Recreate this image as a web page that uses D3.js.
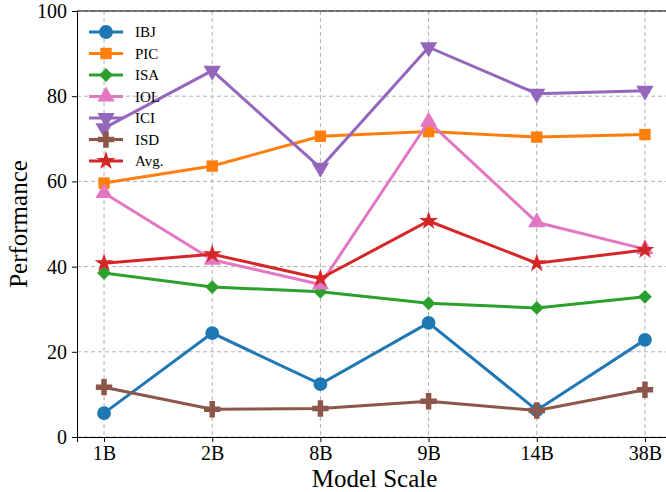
<!DOCTYPE html>
<html>
<head>
<meta charset="utf-8">
<script src="https://cdn.jsdelivr.net/npm/d3@7"></script>
<style>
  body { margin: 0; background: #fff; overflow: hidden; }
</style>
</head>
<body>
<div id="chart"></div>
<script>
// data
var scales = ["1B", "2B", "8B", "9B", "14B", "38B"];
var ibj = [5.6, 24.4, 12.4, 26.8, 6.3, 22.8];
var pic = [59.6, 63.6, 70.6, 71.7, 70.4, 71.0];
var isa = [38.5, 35.2, 34.1, 31.4, 30.3, 32.9];
var iol = [57.3, 41.6, 35.8, 74.0, 50.4, 44.1];
var ici = [72.5, 86.0, 63.2, 91.5, 80.6, 81.3];
var isd = [11.7, 6.5, 6.7, 8.4, 6.2, 11.1];
var avg = [40.8, 42.9, 37.2, 50.7, 40.8, 43.9];
var yTicks = [0, 20, 40, 60, 80, 100];

var series = [
  {name: "IBJ", values: ibj, color: "#1f77b4", marker: "circle"},
  {name: "PIC", values: pic, color: "#ff7f0e", marker: "square"},
  {name: "ISA", values: isa, color: "#2ca02c", marker: "diamond"},
  {name: "IOL", values: iol, color: "#e377c2", marker: "up"},
  {name: "ICI", values: ici, color: "#9467bd", marker: "down"},
  {name: "ISD", values: isd, color: "#8c564b", marker: "plus"},
  {name: "Avg.", values: avg, color: "#d62728", marker: "star"}
];

var FONT = '"Liberation Serif", "Times New Roman", "DejaVu Serif", serif';
var W = 666, H = 492;
var margin = {top: 11, left: 77, bottom: 55, right: -6};
var width = W - margin.left - margin.right,
    height = H - margin.top - margin.bottom;

var svg = d3.select("#chart").append("svg")
    .attr("width", W).attr("height", H)
    .attr("font-family", FONT);
var g = svg.append("g")
    .attr("transform", "translate(" + margin.left + "," + margin.top + ")");

var x = d3.scaleLinear().domain([-0.25, scales.length - 0.75]).range([0, width]);
var y = d3.scaleLinear().domain([0, 100]).range([height, 0]);

// grid
g.append("g").selectAll("line").data(scales).enter().append("line")
    .attr("x1", function(d, i) { return x(i); }).attr("x2", function(d, i) { return x(i); })
    .attr("y1", 0).attr("y2", height)
    .attr("stroke", "#b0b0b0").attr("stroke-width", 1).attr("stroke-dasharray", "4,3");
g.append("g").selectAll("line").data(yTicks).enter().append("line")
    .attr("x1", 0).attr("x2", width)
    .attr("y1", function(d) { return y(d); }).attr("y2", function(d) { return y(d); })
    .attr("stroke", "#b0b0b0").attr("stroke-width", 1).attr("stroke-dasharray", "4,3");

// axes
var xAxis = g.append("g").attr("transform", "translate(0," + height + ")")
    .call(d3.axisBottom(x).tickValues(d3.range(scales.length))
      .tickFormat(function(i) { return scales[i]; }).tickSize(5).tickPadding(4));
var yAxis = g.append("g")
    .call(d3.axisLeft(y).tickValues(yTicks).tickSize(5).tickPadding(5));
[xAxis, yAxis].forEach(function(a) {
  a.attr("font-family", FONT).attr("font-size", 20);
  a.selectAll("text").attr("fill", "#000");
  a.selectAll("line").attr("stroke", "#000");
  a.select(".domain").attr("stroke", "#000");
});
g.append("line").attr("x1", 0).attr("x2", width).attr("y1", 0).attr("y2", 0)
    .attr("stroke", "#000");

// markers
function symbolFor(m) {
  var types = {circle: [d3.symbolCircle, 150], square: [d3.symbolSquare, 130],
    diamond: [d3.symbolSquare, 95], up: [d3.symbolTriangle, 130], down: [d3.symbolTriangle, 130],
    plus: [d3.symbolCross, 150], star: [d3.symbolStar, 110]};
  return d3.symbol().type(types[m][0]).size(types[m][1]);
}
function rot(m) {
  if (m == "down") return " rotate(180)";
  if (m == "diamond") return " rotate(45)";
  return "";
}

var line = d3.line()
    .x(function(d, i) { return x(i); })
    .y(function(d) { return y(d); });

series.forEach(function(s) {
  var sg = g.append("g");
  sg.append("path").datum(s.values)
      .attr("d", line).attr("fill", "none")
      .attr("stroke", s.color).attr("stroke-width", 3);
  sg.selectAll("path.mk").data(s.values).enter().append("path")
      .attr("class", "mk")
      .attr("d", symbolFor(s.marker))
      .attr("fill", s.color)
      .attr("transform", function(d, i) {
        return "translate(" + x(i) + "," + y(d) + ")" + rot(s.marker);
      });
});

// legend
var leg = g.append("g").attr("transform", "translate(12,21)");
series.forEach(function(s, i) {
  var row = leg.append("g").attr("transform", "translate(0," + (i * 21.5) + ")");
  row.append("line").attr("x1", 0).attr("x2", 34).attr("y1", 0).attr("y2", 0)
      .attr("stroke", s.color).attr("stroke-width", 3);
  row.append("path").attr("d", symbolFor(s.marker)).attr("fill", s.color)
      .attr("transform", "translate(17,0)" + rot(s.marker));
  row.append("text").attr("x", 46).attr("y", 5).attr("font-size", 15).text(s.name);
});

// labels
svg.append("text").attr("x", margin.left + x(2.5)).attr("y", 487)
    .attr("text-anchor", "middle").attr("font-size", 25).text("Model Scale");
svg.append("text").attr("transform", "translate(27," + (margin.top + height / 2) + ") rotate(-90)")
    .attr("text-anchor", "middle").attr("font-size", 25).text("Performance");
</script>
</body>
</html>
